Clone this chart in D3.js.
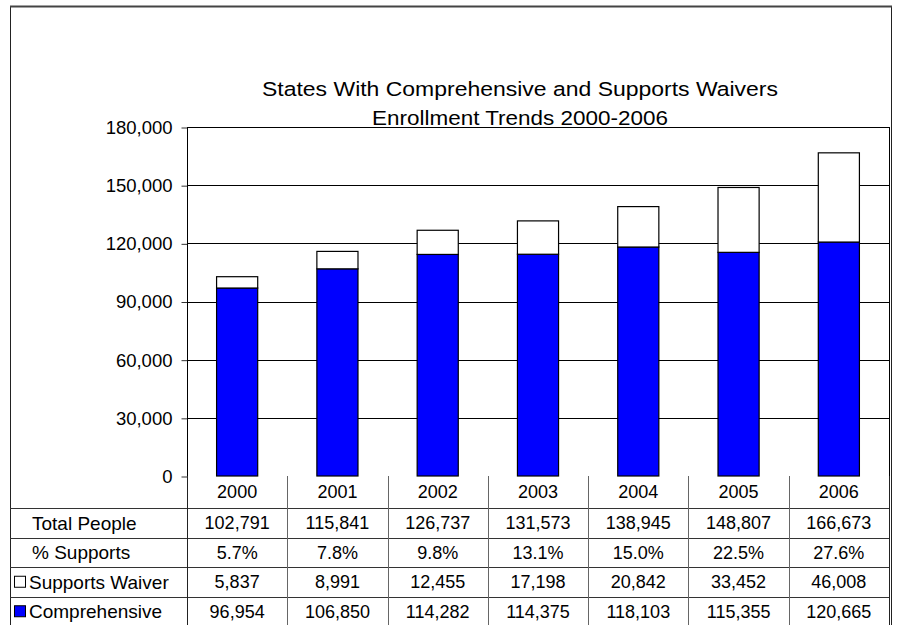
<!DOCTYPE html>
<html>
<head>
<meta charset="utf-8">
<script src="https://cdn.jsdelivr.net/npm/d3@7"></script>
<style>
  body { margin: 0; background: #fff; }
  svg { display: block; font-family: "Liberation Sans", Arial, sans-serif; }
</style>
</head>
<body>
<div id="chart"></div>
<script>
const years = ["2000", "2001", "2002", "2003", "2004", "2005", "2006"];
const comprehensive = [96954, 106850, 114282, 114375, 118103, 115355, 120665];
const supportsWaiver = [5837, 8991, 12455, 17198, 20842, 33452, 46008];
const totalPeople = [102791, 115841, 126737, 131573, 138945, 148807, 166673];
const pctSupports = [5.7, 7.8, 9.8, 13.1, 15.0, 22.5, 27.6];
const yTicks = [0, 30000, 60000, 90000, 120000, 150000, 180000];
const titleLines = ["States With Comprehensive and Supports Waivers", "Enrollment Trends 2000-2006"];

const width = 897, height = 625;
const plot = {left: 187, right: 889, top: 127, bottom: 476};
const rowLines = [476, 508, 537.5, 567, 596.5, 626];

const fmt = d3.format(",");

const svg = d3.select("#chart")
    .append("svg")
    .attr("width", width)
    .attr("height", height);

// outer frame
svg.append("path")
    .attr("d", `M10.5,${height + 5} V6.5 H891.5 V${height + 5}`)
    .attr("fill", "none")
    .attr("stroke", "#222")
    .attr("stroke-width", 1);
svg.append("line")
    .attr("x1", 10).attr("x2", 892)
    .attr("y1", 6.5).attr("y2", 6.5)
    .attr("stroke", "#444")
    .attr("stroke-width", 2);

// title (stretched a little, like the original)
const titleWidths = [516, 296];
svg.append("g")
    .selectAll("text")
    .data(titleLines)
    .join("text")
        .attr("x", 520)
        .attr("y", (d, i) => 95.5 + i * 29)
        .attr("text-anchor", "middle")
        .attr("font-size", 20.5)
        .attr("textLength", (d, i) => titleWidths[i])
        .attr("lengthAdjust", "spacingAndGlyphs")
        .attr("fill", "#000")
        .text(d => d);

const x = d3.scaleBand()
    .domain(years)
    .range([plot.left, plot.right]);

const y = d3.scaleLinear()
    .domain([0, 180000])
    .range([plot.bottom, plot.top]);

// gridlines
svg.append("g")
    .selectAll("line")
    .data(yTicks.filter(d => d > 0))
    .join("line")
        .attr("x1", plot.left)
        .attr("x2", plot.right)
        .attr("y1", d => Math.round(y(d)) + 0.5)
        .attr("y2", d => Math.round(y(d)) + 0.5)
        .attr("stroke", "#000");

// y axis
const yAxis = svg.append("g")
    .attr("transform", `translate(${plot.left + 0.5},0.5)`)
    .call(d3.axisLeft(y).tickValues(yTicks).tickFormat(fmt).tickSize(6).tickPadding(9));
yAxis.select(".domain").remove();
yAxis.selectAll("line").attr("stroke", "#333");
yAxis.selectAll("text")
    .attr("font-size", 18.5)
    .attr("font-family", "\"Liberation Sans\", Arial, sans-serif")
    .attr("fill", "#000");

// plot frame (left axis + right edge)
svg.append("line")
    .attr("x1", plot.left + 0.5).attr("x2", plot.left + 0.5)
    .attr("y1", plot.top).attr("y2", plot.bottom)
    .attr("stroke", "#000");
svg.append("line")
    .attr("x1", plot.right + 0.5).attr("x2", plot.right + 0.5)
    .attr("y1", plot.top).attr("y2", plot.bottom)
    .attr("stroke", "#000");

// stacked bars
const barW = x.bandwidth() * 0.41;
const stackData = years.map((yr, i) => ({year: yr, comp: comprehensive[i], sup: supportsWaiver[i]}));
const series = d3.stack().keys(["comp", "sup"])(stackData);
const fills = {comp: "#0000ff", sup: "#ffffff"};

svg.append("g")
    .selectAll("g")
    .data(series)
    .join("g")
        .attr("fill", d => fills[d.key])
    .selectAll("rect")
    .data(d => d)
    .join("rect")
        .attr("x", d => x(d.data.year) + (x.bandwidth() - barW) / 2)
        .attr("y", d => y(d[1]))
        .attr("width", barW)
        .attr("height", d => y(d[0]) - y(d[1]))
        .attr("stroke", "#000")
        .attr("stroke-width", 1.2);

// data table
const table = svg.append("g");
const rowLabels = ["Total People", "% Supports", "Supports Waiver", "Comprehensive"];
const rowValues = [
    totalPeople.map(fmt),
    pctSupports.map(d => d.toFixed(1) + "%"),
    supportsWaiver.map(fmt),
    comprehensive.map(fmt)
];

// horizontal rules
table.selectAll("line.h")
    .data(rowLines.slice(1, 5))
    .join("line")
        .attr("class", "h")
        .attr("x1", 10)
        .attr("x2", plot.right + 1)
        .attr("y1", d => Math.round(d) + 0.5)
        .attr("y2", d => Math.round(d) + 0.5)
        .attr("stroke", "#333");

// vertical dividers
const cols = years.map(d => x(d)).concat([plot.right]);
table.selectAll("line.v")
    .data(cols)
    .join("line")
        .attr("class", "v")
        .attr("x1", d => Math.round(d) + 0.5)
        .attr("x2", d => Math.round(d) + 0.5)
        .attr("y1", plot.bottom)
        .attr("y2", height)
        .attr("stroke", (d, i) => (i === 0 || i === cols.length - 1) ? "#222" : "#666");

// year header
table.selectAll("text.year")
    .data(years)
    .join("text")
        .attr("class", "year")
        .attr("x", d => x(d) + x.bandwidth() / 2)
        .attr("y", (rowLines[0] + rowLines[1]) / 2)
        .attr("dy", "0.36em")
        .attr("text-anchor", "middle")
        .attr("font-size", 18)
        .text(d => d);

// rows
const rows = table.selectAll("g.row")
    .data(rowValues)
    .join("g")
        .attr("class", "row")
        .attr("transform", (d, i) => `translate(0,${(rowLines[i + 1] + rowLines[i + 2]) / 2})`);

rows.selectAll("text")
    .data(d => d)
    .join("text")
        .attr("x", (d, i) => x(years[i]) + x.bandwidth() / 2)
        .attr("dy", "0.36em")
        .attr("text-anchor", "middle")
        .attr("font-size", 18)
        .text(d => d);

rows.append("text")
    .attr("x", (d, i) => i < 2 ? 32 : 29)
    .attr("dy", "0.36em")
    .attr("font-size", 19)
    .text((d, i) => rowLabels[i]);

// legend keys in the table
rows.filter((d, i) => i >= 2)
    .append("rect")
        .attr("x", 14.5)
        .attr("y", -5.5)
        .attr("width", 11)
        .attr("height", 11)
        .attr("fill", (d, i) => i === 0 ? fills.sup : fills.comp)
        .attr("stroke", "#000");
</script>
</body>
</html>
